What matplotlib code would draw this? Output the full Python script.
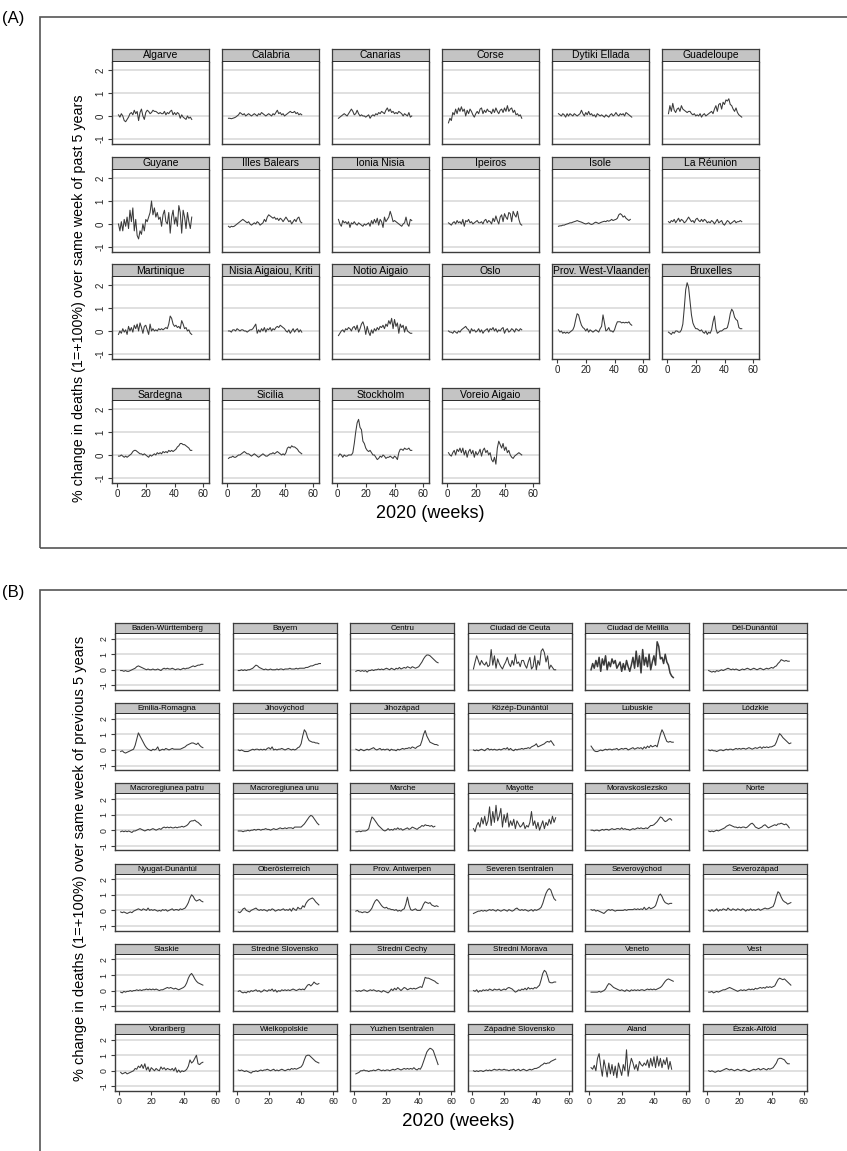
import numpy as np
import matplotlib
matplotlib.use("Agg")
import matplotlib.pyplot as plt

plt.rcParams['font.family'] = ['Liberation Sans', 'DejaVu Sans']

# ---- panel A: weekly % change in deaths, 2020 ----
algarve = [0.05,-0.05,0.1,0.0,-0.2,-0.25,-0.15,-0.05,0.1,0.15, 0.05,0.25,0.1,0.2,-0.2,0.15,0.3,0.0,-0.15,0.15,
           0.25,0.2,0.1,0.15,0.25,0.2,0.2,0.15,0.1,0.15, 0.1,0.1,0.2,0.05,0.15,0.1,0.2,0.25,0.05,0.15,
           0.05,0.15,0.1,-0.1,0.05,-0.05,-0.1,-0.15,0.0,-0.1,-0.05,-0.15]
calabria = [-0.1,-0.1,-0.12,-0.1,-0.08,-0.05,0.0,0.05,0.15,0.1, 0.05,0.1,0.0,0.05,0.1,0.05,0.0,0.05,0.1,0.05,
            0.0,0.1,0.05,0.15,0.1,0.05,0.0,0.05,0.1,0.05, 0.0,0.1,0.05,0.15,0.25,0.1,0.15,0.05,0.1,0.0,
            0.05,0.1,0.15,0.2,0.15,0.15,0.2,0.1,0.15,0.05,0.1,0.05]
canarias = [-0.1,-0.05,0.0,0.05,0.1,0.05,0.0,0.1,0.2,0.3, 0.2,0.05,0.1,0.25,0.1,0.0,0.05,0.0,0.0,-0.05,
            0.0,0.05,-0.1,0.0,0.05,0.0,0.1,0.05,0.15,0.1, 0.2,0.15,0.1,0.25,0.35,0.2,0.3,0.15,0.2,0.1,
            0.15,0.1,0.2,0.15,0.1,0.0,0.1,0.05,0.0,0.15,-0.05,0.0]
corse = [-0.3,-0.1,-0.2,0.15,0.05,0.3,0.1,0.35,0.2,0.4, 0.2,0.3,0.0,0.25,0.1,0.3,0.2,0.05,-0.05,0.1,
         0.2,0.1,0.3,0.35,0.1,0.25,0.15,0.3,0.2,0.2, 0.1,0.3,0.15,0.35,0.2,0.1,0.25,0.3,0.15,0.35,
         0.2,0.45,0.2,0.3,0.35,0.15,0.25,0.05,0.1,0.0,0.05,-0.1]
dytiki_ellada = [0.1,0.05,0.0,0.1,0.05,-0.05,0.1,0.0,0.1,0.05, 0.0,0.1,0.05,0.0,0.05,0.1,0.25,0.1,0.0,0.15,
                 0.05,0.2,0.05,0.1,0.0,0.05,-0.05,0.1,0.05,0.0, 0.05,0.0,-0.05,0.05,0.0,-0.05,0.05,0.1,0.0,0.05,
                 0.15,0.05,0.0,0.1,0.05,0.1,0.0,0.15,0.1,0.05,0.0,-0.05]
guadeloupe = [0.1,0.45,0.2,0.55,0.25,0.15,0.3,0.35,0.2,0.45, 0.3,0.25,0.2,0.15,0.2,0.2,0.1,0.05,0.1,0.0,
              0.05,0.0,0.1,-0.05,0.05,0.1,0.0,0.05,0.1,0.15, 0.2,0.1,0.3,0.45,0.2,0.5,0.55,0.3,0.6,0.5,
              0.7,0.65,0.75,0.5,0.45,0.3,0.2,0.35,0.15,0.05,0.0,-0.05]
guyane = [0.0,-0.3,0.1,-0.3,0.2,-0.1,0.3,-0.2,0.6,0.1, 0.7,-0.3,0.2,-0.5,-0.65,-0.3,-0.45,0.0,-0.3,0.2,
          0.1,0.3,0.5,1.0,0.4,0.7,0.3,0.5,0.2,0.3, -0.1,0.4,0.6,0.1,0.0,0.5,-0.4,0.3,0.6,0.0,
          0.3,-0.1,0.8,0.5,-0.4,0.6,0.3,-0.2,0.5,0.1,-0.2,0.3]
illes_balears = [-0.1,-0.15,-0.1,-0.12,-0.1,-0.05,0.0,0.05,0.1,0.15, 0.2,0.15,0.1,0.05,0.1,0.0,-0.05,0.0,0.05,0.0,
                 0.1,0.05,-0.05,0.0,0.05,0.2,0.1,0.3,0.4,0.35, 0.3,0.25,0.3,0.2,0.25,0.15,0.25,0.2,0.1,0.2,
                 0.3,0.2,0.1,0.15,0.0,0.1,0.2,0.1,0.25,0.3,0.1,0.05]
ionia_nisia = [0.2,0.0,-0.1,0.15,0.05,0.1,0.0,0.1,-0.15,0.05, 0.0,0.1,0.0,-0.05,0.05,0.0,-0.05,-0.1,0.0,-0.05,
               0.0,0.05,-0.1,0.15,0.0,0.2,0.05,0.25,-0.05,0.2, 0.1,-0.15,0.3,0.1,0.2,0.3,0.55,0.35,0.1,0.15,
               0.1,0.05,0.0,-0.05,-0.1,0.0,0.05,0.3,0.0,-0.1,0.2,0.15]
ipeiros = [0.05,0.0,-0.05,0.05,0.1,0.0,0.15,0.05,0.1,0.0, 0.2,-0.1,0.15,0.1,0.2,0.05,0.1,0.0,0.05,0.1,
           0.15,0.05,0.05,0.1,0.0,0.15,0.2,0.05,0.15,0.1, 0.0,0.25,0.1,0.35,0.15,0.0,0.3,0.4,0.1,0.45,
           0.3,0.2,0.5,0.45,0.1,0.55,0.4,0.3,0.55,0.2,0.0,-0.05]
isole = [-0.1,-0.08,-0.08,-0.05,-0.05,-0.02,0.0,0.02,0.05,0.05, 0.08,0.1,0.12,0.15,0.12,0.1,0.08,0.05,0.02,0.0,
         0.02,0.05,0.0,-0.02,0.0,0.05,0.08,0.05,0.02,0.05, 0.08,0.1,0.12,0.1,0.15,0.12,0.15,0.2,0.15,0.18,
         0.2,0.25,0.4,0.45,0.4,0.3,0.35,0.25,0.2,0.15,0.2]
la_reunion = [0.1,0.05,0.15,0.1,0.2,0.05,0.15,0.25,0.1,0.2, 0.15,0.05,0.1,0.2,0.3,0.2,0.1,0.15,0.05,0.2,
              0.25,0.15,0.1,0.2,0.1,0.2,0.15,0.05,0.1,0.05, 0.15,0.1,0.0,0.1,0.2,0.05,0.1,0.15,0.0,-0.05,
              0.05,0.15,0.1,0.0,0.05,0.1,0.15,0.05,0.1,0.1,0.15,0.1]
martinique = [-0.15,0.0,-0.1,0.1,-0.05,0.05,-0.15,0.2,0.0,0.15, -0.05,0.25,0.1,0.3,0.0,0.35,0.15,-0.1,0.2,0.25,
              0.05,-0.15,0.3,0.0,0.1,0.0,0.05,0.0,0.1,0.05, 0.1,0.05,0.1,0.15,0.1,0.3,0.65,0.55,0.3,0.2,
              0.25,0.15,0.2,0.1,0.45,0.3,0.1,0.15,0.0,0.05,-0.1,-0.15]
nisia_aigaiou = [0.0,0.0,-0.05,0.05,0.05,0.0,0.1,0.05,0.0,0.05, 0.05,0.0,0.0,-0.05,0.0,0.05,0.05,0.1,0.2,0.3,
                 -0.1,0.05,-0.05,0.1,0.0,0.15,-0.05,0.1,0.05,0.15, 0.0,0.1,0.05,0.15,0.2,0.15,0.25,0.2,0.15,0.1,
                 0.0,-0.05,0.05,-0.1,0.0,0.1,-0.05,0.05,0.1,-0.05,0.05,-0.05]
notio_aigaio = [-0.2,-0.1,0.0,0.05,-0.05,0.1,0.05,0.15,0.1,0.0, 0.15,0.2,0.05,0.25,-0.05,0.1,0.3,0.4,0.2,-0.15,
                0.2,-0.05,-0.2,0.05,-0.1,0.1,0.0,0.15,0.05,0.2, 0.15,0.25,0.1,0.3,0.2,0.45,0.3,0.55,0.1,0.5,
                0.2,0.35,-0.1,0.3,0.15,0.25,-0.05,0.2,0.0,-0.05,-0.1,-0.1]
oslo = [0.0,-0.05,-0.05,-0.1,0.0,-0.05,-0.1,0.0,-0.05,0.05, 0.1,0.15,0.2,0.1,0.05,-0.1,0.1,0.0,0.05,-0.05,
        0.0,0.1,-0.05,0.05,-0.1,0.0,0.05,0.1,-0.05,0.1, 0.05,0.15,0.0,0.1,-0.05,0.05,0.0,0.1,0.15,-0.1,
        0.05,0.1,-0.05,0.0,0.1,0.05,-0.05,0.1,0.05,0.0,0.1,0.05]
west_vlaanderen = [0.05,-0.05,0.0,-0.1,-0.05,-0.1,-0.05,-0.1,-0.05,0.0, 0.05,0.2,0.5,0.75,0.7,0.45,0.25,0.15,0.1,0.0,
                   0.1,-0.05,0.05,0.0,-0.05,0.0,0.05,0.0,-0.05,0.1, 0.2,0.7,0.35,0.0,0.05,0.15,0.0,0.0,-0.05,0.05,
                   0.25,0.4,0.4,0.4,0.35,0.38,0.35,0.38,0.35,0.4,0.3,0.25]
bruxelles = [-0.05,-0.1,-0.15,-0.05,-0.1,0.0,0.0,-0.05,-0.05,0.05, 0.3,1.0,1.8,2.1,1.9,1.3,0.7,0.35,0.2,0.1,
             0.1,0.05,0.0,0.05,-0.05,-0.1,0.0,-0.15,-0.05,-0.1, 0.05,0.4,0.65,0.1,-0.1,-0.05,0.0,0.0,0.05,0.1,
             0.1,0.15,0.4,0.75,0.95,0.85,0.6,0.5,0.45,0.15,0.1,0.1]
sardegna = [-0.05,-0.05,0.0,-0.05,-0.1,-0.05,-0.1,-0.05,0.0,0.05, 0.15,0.2,0.2,0.15,0.1,0.05,0.05,0.0,0.05,0.0,
            -0.05,-0.1,0.0,-0.05,0.0,0.05,0.0,0.1,0.05,0.1, 0.05,0.15,0.1,0.15,0.1,0.2,0.15,0.2,0.15,0.2,
            0.25,0.35,0.4,0.5,0.5,0.45,0.45,0.4,0.35,0.3,0.2,0.2]
sicilia = [-0.15,-0.1,-0.1,-0.05,-0.1,-0.1,-0.05,0.0,0.0,0.05, 0.1,0.15,0.1,0.05,0.05,0.0,-0.05,0.0,0.05,0.0,
           -0.05,-0.1,-0.05,0.0,0.05,0.0,-0.05,-0.05,0.0,0.05, 0.05,0.1,0.05,0.1,0.15,0.1,0.05,0.0,0.05,0.0,
           0.1,0.3,0.35,0.3,0.4,0.35,0.35,0.3,0.25,0.15,0.1,0.05]
stockholm = [-0.05,0.05,0.0,-0.1,0.0,-0.05,-0.05,0.0,0.0,0.0, 0.1,0.5,1.0,1.4,1.55,1.2,1.1,0.6,0.5,0.3,
             0.2,0.15,0.2,0.1,0.0,0.0,-0.1,-0.2,-0.15,-0.05, -0.1,0.0,-0.05,-0.15,-0.1,-0.1,-0.05,-0.1,-0.15,-0.05,
             -0.1,-0.2,0.1,0.25,0.25,0.2,0.3,0.25,0.25,0.3,0.2,0.2]
voreio_aigaio = [0.1,0.0,-0.05,0.1,0.2,0.0,0.25,0.15,0.3,0.1, 0.3,0.0,0.2,-0.1,0.15,0.25,0.05,0.2,-0.1,0.15,
                 0.0,0.1,0.25,-0.05,0.2,0.3,0.1,0.2,0.0,0.1, -0.2,-0.3,-0.1,-0.4,0.3,0.6,0.45,0.3,0.5,0.2,
                 0.35,0.1,0.2,0.0,-0.1,-0.15,-0.05,0.0,0.05,0.1,0.05,0.0]

names_a = ["Algarve", "Calabria", "Canarias", "Corse", "Dytiki Ellada", "Guadeloupe",
           "Guyane", "Illes Balears", "Ionia Nisia", "Ipeiros", "Isole", "La Réunion",
           "Martinique", "Nisia Aigaiou, Kriti", "Notio Aigaio", "Oslo", "Prov. West-Vlaanderen", "Bruxelles",
           "Sardegna", "Sicilia", "Stockholm", "Voreio Aigaio"]
series_a = [algarve, calabria, canarias, corse, dytiki_ellada, guadeloupe,
            guyane, illes_balears, ionia_nisia, ipeiros, isole, la_reunion,
            martinique, nisia_aigaiou, notio_aigaio, oslo, west_vlaanderen, bruxelles,
            sardegna, sicilia, stockholm, voreio_aigaio]

# ---- panel B ----
baden_wurttemberg = [-0.05,-0.05,-0.1,-0.05,-0.1,-0.1,-0.05,0.0,0.05,0.1, 0.2,0.25,0.2,0.15,0.1,0.05,0.0,0.05,0.0,0.0,
                     0.05,0.0,0.0,0.05,0.0,-0.05,0.05,0.1,0.05,0.1, 0.05,0.05,0.1,0.05,0.0,0.05,0.05,0.0,0.05,0.1,
                     0.05,0.1,0.1,0.15,0.2,0.25,0.2,0.25,0.3,0.3,0.35,0.35]
bayern = [-0.05,-0.05,0.0,-0.05,0.0,-0.05,0.0,0.0,0.05,0.1, 0.2,0.3,0.25,0.15,0.1,0.05,0.0,0.05,0.0,0.0,
          0.05,0.0,0.0,0.0,0.05,0.0,0.05,0.05,0.0,0.05, 0.05,0.05,0.1,0.05,0.05,0.05,0.1,0.05,0.1,0.1,
          0.1,0.1,0.15,0.15,0.2,0.25,0.25,0.3,0.35,0.35,0.4,0.4]
centru = [-0.1,-0.05,-0.05,-0.1,-0.05,-0.1,-0.05,-0.15,-0.05,-0.05, 0.0,-0.05,0.0,0.0,0.05,0.0,0.05,0.0,0.05,0.1,
          0.05,0.0,0.1,0.05,0.0,0.1,0.05,0.15,0.05,0.1, 0.15,0.1,0.2,0.15,0.1,0.2,0.15,0.1,0.15,0.2,
          0.35,0.5,0.7,0.85,0.95,0.95,0.9,0.8,0.7,0.6,0.5,0.45]
ciudad_de_ceuta = [0.05,0.5,0.9,0.6,0.3,0.6,0.4,0.3,0.5,0.2, 0.3,1.3,0.3,0.9,0.1,0.7,0.4,0.2,0.05,0.3,
                   0.5,0.8,0.4,0.2,0.6,0.3,1.0,0.4,0.5,0.2, 0.6,0.6,0.3,0.1,0.5,0.8,0.05,0.2,0.9,0.0,
                   0.6,0.3,1.2,1.35,1.1,0.5,0.9,0.05,0.3,0.15,0.0,0.0]
ciudad_de_melilla = [0.0,0.4,0.1,0.6,0.2,0.8,-0.1,0.7,0.3,0.9, 0.0,0.5,0.2,0.7,0.4,0.6,0.1,0.3,0.5,-0.1,
                     0.4,0.0,0.6,0.2,-0.1,0.3,0.8,0.1,1.2,0.2, 0.9,-0.2,1.3,0.3,0.8,0.2,1.0,0.0,0.5,0.9,
                     0.3,1.8,1.5,0.7,0.8,0.4,1.0,0.5,0.3,-0.2,-0.4,-0.5]
del_dunantul = [-0.05,-0.1,-0.15,-0.1,-0.15,-0.05,-0.1,-0.05,0.0,-0.05, 0.0,0.05,0.1,0.05,0.0,0.05,0.0,0.05,0.0,-0.05,
                0.0,0.05,0.0,0.05,0.1,0.05,0.0,0.05,0.1,0.05, 0.0,0.05,0.1,0.05,0.0,0.05,0.1,0.05,0.1,0.15,
                0.1,0.2,0.25,0.4,0.5,0.65,0.6,0.55,0.6,0.55,0.55]
emilia_romagna = [-0.1,-0.05,-0.15,-0.2,-0.15,-0.1,-0.05,0.0,0.05,0.3, 0.7,1.1,0.9,0.7,0.5,0.3,0.15,0.05,0.0,-0.05,
                  0.05,0.0,0.05,0.2,-0.05,0.0,0.05,0.0,0.1,0.05, 0.0,0.05,0.1,0.05,0.05,0.05,0.05,0.05,0.1,0.15,
                  0.2,0.3,0.35,0.4,0.45,0.45,0.4,0.35,0.45,0.3,0.2,0.15]
jihovychod = [0.0,-0.05,0.0,-0.05,-0.1,-0.1,-0.1,-0.05,0.0,0.05, 0.0,0.05,0.05,0.0,0.05,0.0,0.05,0.0,0.1,0.15,
              0.05,0.2,0.0,0.05,0.0,0.05,0.05,0.1,0.05,0.0, 0.05,0.1,0.05,0.0,0.05,0.0,0.05,0.15,0.2,0.4,
              0.9,1.3,1.15,0.8,0.6,0.55,0.5,0.5,0.45,0.45,0.4]
jihozapad = [0.05,0.0,-0.05,0.05,0.0,-0.05,0.0,0.05,0.0,0.05, 0.1,0.15,0.05,0.0,0.05,0.1,0.0,0.05,0.0,0.05,
             0.05,-0.05,0.05,0.0,0.0,-0.05,0.05,0.0,0.05,0.1, 0.05,0.1,0.1,0.15,0.1,0.2,0.15,0.1,0.2,0.25,
             0.3,0.6,1.0,1.25,0.9,0.7,0.5,0.45,0.4,0.35,0.35,0.3]
kozep_dunantul = [0.0,-0.05,0.0,-0.05,0.0,0.05,0.0,-0.05,0.05,0.1, 0.0,0.05,0.0,0.05,0.0,0.0,0.05,0.0,0.05,0.1,
                  0.05,0.15,0.0,0.1,0.0,-0.05,0.05,0.0,0.05,0.05, 0.1,0.05,0.1,0.1,0.15,0.1,0.2,0.25,0.3,0.4,
                  0.2,0.25,0.3,0.35,0.4,0.5,0.55,0.5,0.6,0.45,0.3]
lubuskie = [0.25,0.1,-0.05,-0.1,-0.1,-0.05,0.0,-0.05,0.0,0.05, 0.0,0.05,0.05,0.0,0.05,0.05,0.1,0.0,0.05,0.1,
            0.05,0.1,0.1,0.0,0.05,0.1,0.15,0.05,0.1,0.15, 0.1,0.15,0.05,0.2,0.1,0.25,0.15,0.3,0.2,0.25,
            0.3,0.2,0.6,1.0,1.3,1.1,0.8,0.55,0.5,0.55,0.5,0.5]
lodzkie = [0.0,-0.05,0.0,-0.05,-0.05,-0.1,-0.05,0.0,0.0,-0.05, 0.0,0.05,0.0,0.05,0.05,0.0,0.05,0.1,0.05,0.1,
           0.05,0.1,0.1,0.05,0.1,0.15,0.1,0.05,0.1,0.15, 0.1,0.15,0.2,0.1,0.2,0.15,0.2,0.15,0.2,0.2,
           0.25,0.3,0.5,0.8,1.05,0.95,0.8,0.7,0.6,0.5,0.4,0.45]
macro_patru = [-0.1,-0.05,-0.1,-0.05,-0.1,-0.05,-0.1,-0.15,-0.05,-0.05, 0.0,0.05,0.1,0.05,0.0,-0.05,0.0,0.05,0.0,0.05,
               0.1,0.05,0.0,0.05,0.1,0.05,0.15,0.2,0.15,0.2, 0.15,0.2,0.15,0.15,0.2,0.15,0.2,0.2,0.25,0.2,
               0.25,0.3,0.4,0.55,0.6,0.6,0.65,0.55,0.5,0.4,0.3]
macro_unu = [-0.05,-0.05,-0.05,-0.1,-0.05,-0.05,0.0,-0.05,0.0,0.0, 0.05,0.0,0.05,0.05,0.0,0.05,0.05,0.1,0.05,0.05,
             0.0,0.05,0.1,0.05,0.05,0.1,0.15,0.1,0.1,0.15, 0.1,0.15,0.15,0.15,0.1,0.2,0.2,0.2,0.2,0.2,
             0.3,0.4,0.55,0.7,0.85,0.95,0.9,0.75,0.6,0.45,0.35]
marche = [-0.1,-0.1,-0.05,-0.1,-0.05,-0.05,-0.05,0.0,0.1,0.5, 0.85,0.75,0.6,0.45,0.3,0.2,0.1,0.0,-0.05,0.0,
          0.1,0.0,0.05,0.0,0.1,0.05,0.15,0.05,0.1,0.0, 0.05,0.1,0.15,0.05,0.1,0.2,0.15,0.1,0.05,0.15,
          0.2,0.3,0.25,0.35,0.3,0.3,0.25,0.3,0.2,0.25]
mayotte = [0.1,-0.1,0.3,0.5,0.2,0.8,0.4,0.9,0.3,0.6, 1.5,0.3,1.2,0.5,1.6,0.6,0.9,1.4,0.2,1.0,
           0.5,1.1,0.2,0.6,0.3,0.7,0.1,0.6,0.4,0.2, 0.3,0.5,0.1,0.3,0.2,0.5,1.2,0.3,0.6,0.1,
           0.5,0.0,0.3,0.6,0.1,0.5,0.3,0.7,0.4,0.9,0.5,0.8]
moravskoslezsko = [0.0,0.0,-0.05,0.0,0.0,-0.05,0.0,0.05,0.0,0.05, 0.05,0.0,0.05,0.1,0.05,0.05,0.1,0.1,0.05,0.15,
                   0.05,0.1,0.05,0.05,0.0,0.05,0.1,0.05,0.1,0.15, 0.1,0.15,0.1,0.1,0.15,0.1,0.2,0.3,0.3,0.35,
                   0.45,0.55,0.7,0.85,0.8,0.65,0.55,0.6,0.7,0.75,0.65]
norte = [-0.05,-0.1,-0.05,-0.1,-0.05,0.0,-0.05,0.0,0.05,0.1, 0.15,0.25,0.3,0.35,0.3,0.25,0.2,0.2,0.15,0.2,
         0.15,0.2,0.2,0.15,0.2,0.3,0.4,0.45,0.35,0.2, 0.15,0.1,0.15,0.2,0.3,0.35,0.25,0.15,0.2,0.25,
         0.3,0.35,0.3,0.4,0.4,0.45,0.4,0.35,0.4,0.3,0.15]
nyugat_dunantul = [-0.1,-0.15,-0.1,-0.15,-0.2,-0.15,-0.1,-0.15,-0.05,0.0, 0.05,0.1,0.05,0.0,0.1,0.05,0.0,0.15,0.0,0.05,
                   0.0,0.05,0.0,-0.05,0.0,-0.05,0.05,0.0,0.05,-0.05, 0.0,0.05,0.1,0.0,0.05,0.05,0.0,0.1,0.05,0.1,
                   0.15,0.3,0.5,0.8,1.0,0.9,0.7,0.6,0.65,0.7,0.6,0.55]
oberosterreich = [-0.1,-0.15,-0.05,0.1,0.15,0.0,-0.05,-0.1,0.0,0.05, 0.1,0.15,0.05,0.0,0.05,0.0,0.05,0.0,-0.05,0.05,
                  0.0,0.1,0.05,-0.05,0.0,0.05,0.0,0.05,0.1,0.0, 0.05,0.0,0.1,-0.05,0.15,0.05,0.0,0.2,0.1,0.1,
                  0.3,0.2,0.45,0.6,0.7,0.75,0.8,0.7,0.55,0.45,0.35]
prov_antwerpen = [-0.05,0.0,-0.1,-0.1,-0.15,-0.1,-0.1,-0.15,-0.1,0.0, 0.15,0.4,0.6,0.7,0.6,0.45,0.3,0.2,0.15,0.2,
                  0.1,0.1,0.05,0.05,0.0,0.05,-0.05,0.0,-0.05,0.05, 0.1,0.4,0.85,0.35,0.05,0.0,0.05,0.1,0.0,0.0,
                  0.0,0.15,0.4,0.55,0.5,0.45,0.5,0.35,0.3,0.25,0.3,0.25]
severen_tsentralen = [-0.2,-0.15,-0.1,-0.05,-0.05,0.0,-0.05,0.0,-0.05,0.0, 0.05,0.0,0.05,0.0,-0.05,0.05,0.0,-0.05,0.0,0.05,
                      0.0,-0.05,0.05,0.0,-0.05,0.0,0.1,0.15,0.05,0.0, 0.05,0.0,0.05,0.0,-0.05,0.0,0.05,-0.05,0.05,0.0,
                      0.05,0.1,0.2,0.45,0.8,1.1,1.3,1.4,1.3,1.0,0.75,0.65]
severovychod = [0.05,0.0,0.05,-0.05,0.0,-0.05,-0.1,-0.15,-0.2,-0.1, 0.0,0.05,0.0,0.05,0.0,-0.05,0.0,0.0,0.0,0.0,
                0.0,0.05,0.0,0.05,0.05,0.05,0.05,0.1,0.05,0.1, 0.05,0.1,0.05,0.2,0.05,0.1,0.2,0.1,0.15,0.2,
                0.3,0.6,0.95,1.05,0.9,0.65,0.5,0.45,0.4,0.45,0.45]
severozapad = [0.0,-0.05,0.05,-0.05,0.0,0.1,-0.05,0.05,0.0,0.1, 0.05,0.0,0.15,0.05,0.0,0.1,0.05,0.0,0.1,0.05,
               0.0,0.1,0.05,-0.05,0.05,0.0,0.1,0.0,0.05,0.0, 0.05,0.1,0.0,0.05,0.1,0.15,0.1,0.1,0.15,0.2,
               0.25,0.5,0.9,1.2,1.1,0.85,0.65,0.55,0.5,0.4,0.45,0.5]
slaskie = [-0.1,-0.15,-0.05,-0.1,-0.05,-0.05,0.0,-0.05,0.0,0.0, 0.05,0.0,0.05,0.0,0.05,0.05,0.1,0.05,0.1,0.05,
           0.1,0.05,0.1,0.05,0.0,0.05,0.05,0.1,0.15,0.2, 0.15,0.2,0.15,0.1,0.15,0.1,0.05,0.1,0.15,0.2,
           0.3,0.5,0.8,1.0,1.1,0.95,0.75,0.6,0.5,0.45,0.4,0.35]
stredne_slovensko = [-0.05,0.0,-0.1,-0.15,-0.1,-0.15,-0.05,-0.1,0.0,-0.05, 0.0,0.05,-0.05,0.0,-0.1,-0.05,0.05,0.0,-0.05,0.05,
                     0.0,0.1,-0.05,0.05,-0.1,0.0,-0.05,0.05,0.0,0.05, 0.0,0.05,0.0,0.05,0.1,0.05,0.0,0.05,0.1,0.05,
                     0.1,0.05,0.2,0.35,0.4,0.3,0.4,0.55,0.45,0.4,0.45]
stredni_cechy = [0.0,-0.05,0.0,-0.05,0.0,0.05,0.0,-0.05,0.0,0.05, 0.0,0.05,0.0,-0.05,0.0,-0.05,-0.1,0.0,-0.05,-0.1,
                 -0.15,-0.05,0.1,0.0,0.15,0.05,0.2,0.1,0.0,0.1, 0.2,0.15,0.05,0.1,0.15,0.1,0.15,0.1,0.15,0.2,
                 0.25,0.2,0.5,0.85,0.8,0.8,0.75,0.7,0.65,0.6,0.5,0.45]
stredni_morava = [0.0,-0.05,0.05,-0.1,0.0,-0.05,0.05,0.0,0.05,0.0, 0.1,0.05,0.0,0.1,0.05,0.05,0.1,0.0,0.05,0.1,
                  0.05,0.15,0.2,0.15,0.1,0.0,-0.1,-0.05,0.05,0.0, 0.1,0.05,0.15,0.05,0.2,0.1,0.15,0.1,0.2,0.15,
                  0.25,0.35,0.7,1.1,1.3,1.2,0.9,0.55,0.5,0.5,0.55,0.55]
veneto = [-0.1,-0.1,-0.1,-0.1,-0.1,-0.05,-0.1,-0.05,0.0,0.1, 0.3,0.45,0.4,0.3,0.2,0.15,0.1,0.05,0.0,0.05,
          0.0,-0.05,0.05,0.0,-0.05,0.05,0.0,0.05,0.0,0.05, 0.0,0.05,0.05,0.0,0.05,0.1,0.05,0.1,0.05,0.1,
          0.05,0.1,0.15,0.2,0.3,0.45,0.6,0.7,0.75,0.7,0.65,0.6]
vest = [-0.1,-0.1,-0.05,-0.15,-0.1,-0.05,-0.1,-0.05,0.0,0.05, 0.05,0.1,0.15,0.2,0.15,0.1,0.05,0.0,-0.05,0.0,
        0.05,0.0,0.05,0.0,0.05,0.1,0.05,0.1,0.05,0.15, 0.1,0.15,0.2,0.15,0.2,0.15,0.25,0.2,0.25,0.2,
        0.25,0.3,0.5,0.7,0.8,0.75,0.7,0.75,0.65,0.55,0.45,0.35]
vorarlberg = [-0.1,-0.2,-0.15,-0.1,-0.2,-0.15,-0.1,-0.05,0.0,0.15, 0.1,0.3,0.2,0.4,0.15,0.45,0.05,0.25,-0.05,0.2,
              0.1,0.0,0.15,0.05,0.0,0.25,0.1,0.2,0.05,0.15, 0.1,0.05,0.15,0.0,0.2,-0.1,0.05,-0.1,0.0,-0.05,
              0.0,0.1,0.3,0.7,0.5,0.6,0.8,1.0,0.45,0.4,0.5,0.55]
wielkopolskie = [0.05,0.0,0.05,0.0,-0.05,0.0,-0.05,-0.1,-0.15,-0.05, -0.05,0.0,-0.05,0.0,0.05,0.0,0.05,0.05,0.1,0.05,
                 0.0,0.05,0.1,0.0,0.05,0.0,0.05,0.1,0.05,0.0, 0.05,0.1,0.05,0.15,0.1,0.15,0.1,0.15,0.2,0.25,
                 0.4,0.7,0.95,1.0,1.0,0.9,0.8,0.7,0.6,0.55,0.5]
yuzhen_tsentralen = [-0.2,-0.15,-0.1,0.0,0.0,0.05,0.0,0.0,-0.05,0.0, 0.0,0.05,0.0,0.05,0.1,0.05,0.0,0.05,0.0,0.05,
                     0.05,0.0,0.05,0.1,0.05,0.1,0.15,0.1,0.05,0.1, 0.15,0.1,0.15,0.1,0.15,0.1,0.2,0.1,0.05,0.15,
                     0.1,0.3,0.6,0.9,1.2,1.35,1.45,1.4,1.3,1.0,0.7,0.4]
zapadne_slovensko = [0.0,-0.05,0.0,-0.05,0.0,0.0,-0.05,0.0,0.05,0.0, 0.05,0.0,0.05,0.1,0.05,0.05,0.1,0.05,0.05,0.1,
                     0.05,0.05,0.0,0.05,0.05,0.1,0.0,0.05,0.1,0.0, 0.05,0.1,0.05,0.0,0.05,0.1,0.05,0.1,0.15,0.15,
                     0.2,0.25,0.35,0.4,0.5,0.45,0.5,0.5,0.6,0.65,0.7,0.75]
aland = [0.2,0.1,0.35,0.0,0.8,1.1,0.3,-0.35,0.7,0.2, -0.4,0.5,-0.2,0.4,-0.3,0.3,-0.45,0.5,0.1,-0.3,
         0.4,0.0,1.35,-0.35,0.3,0.8,0.5,0.1,0.4,0.0, 0.6,0.4,0.3,0.5,0.35,0.7,0.2,0.8,0.3,0.9,
         0.2,0.95,0.3,0.8,0.2,0.7,0.4,0.85,0.1,0.6,0.1]
eszak_alfold = [0.0,-0.05,0.0,-0.05,-0.1,-0.05,0.0,-0.05,0.0,0.05, 0.1,0.15,0.1,0.05,0.1,0.05,0.0,0.05,0.1,0.05,
                0.0,0.05,0.1,0.05,0.0,-0.05,0.0,0.05,0.1,0.05, 0.1,0.15,0.05,0.1,0.15,0.1,0.05,0.15,0.1,0.15,
                0.2,0.35,0.5,0.75,0.8,0.8,0.75,0.7,0.55,0.45,0.45]

names_b = ["Baden-Württemberg", "Bayern", "Centru", "Ciudad de Ceuta", "Ciudad de Melilla", "Dél-Dunántúl",
           "Emilia-Romagna", "Jihovýchod", "Jihozápad", "Közép-Dunántúl", "Lubuskie", "Lódzkie",
           "Macroregiunea patru", "Macroregiunea unu", "Marche", "Mayotte", "Moravskoslezsko", "Norte",
           "Nyugat-Dunántúl", "Oberösterreich", "Prov. Antwerpen", "Severen tsentralen", "Severovýchod", "Severozápad",
           "Slaskie", "Stredné Slovensko", "Stredni Cechy", "Stredni Morava", "Veneto", "Vest",
           "Vorarlberg", "Wielkopolskie", "Yuzhen tsentralen", "Západné Slovensko", "Aland", "Észak-Alföld"]
series_b = [baden_wurttemberg, bayern, centru, ciudad_de_ceuta, ciudad_de_melilla, del_dunantul,
            emilia_romagna, jihovychod, jihozapad, kozep_dunantul, lubuskie, lodzkie,
            macro_patru, macro_unu, marche, mayotte, moravskoslezsko, norte,
            nyugat_dunantul, oberosterreich, prov_antwerpen, severen_tsentralen, severovychod, severozapad,
            slaskie, stredne_slovensko, stredni_cechy, stredni_morava, veneto, vest,
            vorarlberg, wielkopolskie, yuzhen_tsentralen, zapadne_slovensko, aland, eszak_alfold]

yticks = [-1, 0, 1, 2]
xticks = [0, 20, 40, 60]

W, H = 847, 1151
fig = plt.figure(figsize=(W / 100, H / 100), dpi=100)
fig.patch.set_facecolor('white')
renderer = fig.canvas.get_renderer()


def px_axes(x0, y0, w, h, **kw):
    # pixel box (top-left origin) -> figure axes
    return fig.add_axes([x0 / W, 1 - (y0 + h) / H, w / W, h / H], **kw)


frame = '#3c3c3c'


def small_multiple(x0, ytop, w, strip_h, plot_h, name, vals, xlim, ylim,
                   show_y, show_x, strip_fs, tick_fs, lw=0.75):
    sax = px_axes(x0, ytop, w, strip_h)
    sax.set_facecolor('#c4c4c4')
    sax.set_xticks([])
    sax.set_yticks([])
    for s in sax.spines.values():
        s.set_color(frame)
        s.set_linewidth(0.9)
    sax.spines['bottom'].set_color('black')
    sax.spines['bottom'].set_linewidth(1.8)
    sax.spines['bottom'].set_capstyle('butt')
    t = sax.text(0.5, 0.5, name, ha='center', va='center', fontsize=strip_fs,
                 transform=sax.transAxes, clip_on=True)
    # long titles start at the left edge and run off the right, like the original
    if t.get_window_extent(renderer).width > w - 2:
        t.set_x(0.01)
        t.set_ha('left')

    ax = px_axes(x0, ytop + strip_h, w, plot_h)
    weeks = np.arange(1, len(vals) + 1)
    for yv in yticks:
        ax.axhline(yv, color='#e0e0e0', lw=1.4, zorder=0)
    ax.plot(weeks, vals, color='#3a3a3a', lw=lw, zorder=2)
    ax.set_xlim(*xlim)
    ax.set_ylim(*ylim)
    for s in ax.spines.values():
        s.set_color(frame)
        s.set_linewidth(1.0)
    ax.spines['top'].set_visible(False)
    if show_y:
        ax.set_yticks(yticks)
        ax.set_yticklabels([str(v) for v in yticks], rotation=90, va='center',
                           fontsize=tick_fs, color='#222222')
        ax.tick_params(axis='y', length=3, width=0.8, pad=1.5, color=frame)
    else:
        ax.set_yticks([])
    if show_x:
        ax.set_xticks(xticks)
        ax.set_xticklabels([str(v) for v in xticks], fontsize=tick_fs, color='#222222')
        ax.tick_params(axis='x', length=3, width=0.8, pad=1.5, color=frame)
    else:
        ax.set_xticks([])
    return ax


# ---------------- panel A ----------------
fig.add_artist(plt.Rectangle((40 / W, 1 - 548 / H), 830 / W, (548 - 17) / H,
                             transform=fig.transFigure, fill=False, ec='#555555', lw=1.2))
fig.text(2 / W, 1 - 19 / H, '(A)', fontsize=12, va='center', ha='left')

ncol = 6
n_a = len(names_a)
a_rows = [49, 157, 264, 388]
for i, (nm, vals) in enumerate(zip(names_a, series_a)):
    r, c = divmod(i, ncol)
    bottom_of_col = (i + ncol) >= n_a
    small_multiple(112 + 110 * c, a_rows[r], 97, 13, 82, nm, vals,
                   (-3.5, 64), (-1.22, 2.35), c == 0, bottom_of_col, 7.5, 7)

fig.text(79 / W, 1 - 298 / H, '% change in deaths (1=+100%) over same week of past 5 years',
         rotation=90, ha='center', va='center', fontsize=10.3)
fig.text(430 / W, 1 - 513 / H, '2020 (weeks)', ha='center', va='center', fontsize=13)

# ---------------- panel B ----------------
fig.add_artist(plt.Rectangle((40 / W, -10 / H), 830 / W, (1151 - 590 + 10) / H,
                             transform=fig.transFigure, fill=False, ec='#555555', lw=1.2))
fig.text(2 / W, 1 - 592 / H, '(B)', fontsize=12, va='center', ha='left')

n_b = len(names_b)
for i, (nm, vals) in enumerate(zip(names_b, series_b)):
    r, c = divmod(i, ncol)
    bottom_of_col = (i + ncol) >= n_b
    lw = 1.1 if nm == "Ciudad de Melilla" else 0.75
    small_multiple(115 + 117.6 * c, 623 + 80.2 * r, 104, 11, 56, nm, vals,
                   (-2.5, 62), (-1.3, 2.3), c == 0, bottom_of_col, 5.8, 6.3, lw=lw)

fig.text(80 / W, 1 - 858 / H, '% change in deaths (1=+100%) over same week of previous 5 years',
         rotation=90, ha='center', va='center', fontsize=10.5)
fig.text(458 / W, 1 - 1122 / H, '2020 (weeks)', ha='center', va='center', fontsize=13.5)

fig.savefig('out.png', dpi=100, facecolor='white')
